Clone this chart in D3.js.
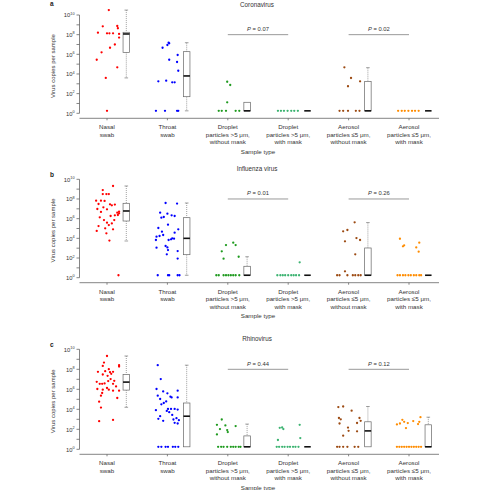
<!DOCTYPE html>
<html><head><meta charset="utf-8">
<script src="https://cdn.jsdelivr.net/npm/d3@7"></script>
<style>html,body{margin:0;padding:0;background:#fff}svg{display:block}</style>
</head><body><div id="chart"></div>
<script>
// ---------- data ----------
const categoryLabels = [
  ["Nasal","swab"],
  ["Throat","swab"],
  ["Droplet","particles >5 μm,","without mask"],
  ["Droplet","particles >5 μm,","with mask"],
  ["Aerosol","particles ≤5 μm,","without mask"],
  ["Aerosol","particles ≤5 μm,","with mask"]
];
const viruses = ["Coronavirus","Influenza virus","Rhinovirus"];
const panelLetters = ["a","b","c"];
const pValues = [["0.07","0.02"],["0.01","0.26"],["0.44","0.12"]];
const yTickExponents = [0,2,4,6,8,10];
const ND = null; // not detected -> plotted at detection floor
const detectionFloorLog = 0.25;
const colors = ["#ff0000","#0000ff","#1e9a1e","#3cb371","#9c4a12","#ff8c00"];

// points: [jitter (fraction of category step), log10 copies]
const coronaPoints = [
  [[0.03,10.5],[-0.07,8.85],[0.17,8.88],[0.18,8.65],[-0.15,8.2],[0,8.14],[0.04,8.14],[0.1,8.14],[0.2,8.07],[0.2,7.7],[0.13,7.0],[0.05,6.67],[-0.09,6.2],[-0.17,5.45],[0.17,4.68],[-0.02,3.6],[0,ND]],
  [[-0.08,6.67],[0,6.95],[0.02,7.18],[0.03,7.12],[0.17,5.93],[0.03,5.45],[0.16,5.22],[0.18,4.33],[-0.15,3.25],[-0.02,3.32],[0.08,3.15],[0.12,3.15],[-0.19,ND],[-0.04,ND],[0.16,ND],[0.18,ND]],
  [[-0.01,3.21],[0.04,2.88],[-0.01,1.12],[-0.15,ND],[-0.1,ND],[-0.03,ND],[0.13,ND],[0.19,ND]],
  [[-0.17,ND],[-0.12,ND],[-0.07,ND],[-0.01,ND],[0.05,ND],[0.1,ND],[0.16,ND]],
  [[-0.07,4.68],[0.04,3.59],[-0.01,2.75],[0.19,3.25],[-0.15,ND],[-0.09,ND],[-0.01,ND],[0.12,ND],[0.18,ND]],
  [[-0.18,ND],[-0.12,ND],[-0.07,ND],[-0.01,ND],[0.05,ND],[0.1,ND],[0.16,ND]]
];
const influenzaPoints = [
  [[0.1,9.32],[-0.07,8.91],[-0.07,8.5],[-0.01,8.5],[0.03,8.5],[-0.18,7.83],[-0.1,7.83],[-0.04,7.8],[-0.14,7.49],[0.05,7.46],[0.08,7.36],[0.13,7.43],[-0.06,7.15],[-0.16,6.98],[0,6.95],[0.2,6.71],[0.17,6.61],[0.2,6.54],[0.18,6.37],[0.13,6.34],[-0.1,6.68],[0.06,6.27],[-0.12,6.14],[-0.05,5.86],[0.12,5.86],[0,5.59],[0.08,5.52],[0.03,5.35],[-0.14,5.25],[-0.03,5.02],[0.1,4.92],[-0.17,4.75],[-0.01,4.51],[0.04,3.77],[0.19,ND]],
  [[-0.03,7.59],[0.16,7.53],[-0.12,6.61],[0,6.51],[-0.06,6.17],[0.07,6.34],[0.12,6.27],[-0.1,6.1],[0.01,5.39],[-0.15,5.05],[-0.18,4.17],[-0.13,4.24],[-0.07,4.34],[-0.09,4.68],[0.12,4.58],[0.18,4.92],[0.06,3.9],[0.08,4.0],[0.11,3.97],[0.02,3.83],[-0.19,3.83],[-0.03,3.22],[0,3.08],[0.01,2.81],[-0.18,3.05],[0.17,2.71],[-0.01,2.38],[0.17,1.94],[-0.16,ND],[0.01,ND],[0.03,ND],[0.17,ND],[0.2,ND]],
  [[-0.03,3.32],[0.09,3.56],[0.13,3.32],[-0.1,2.68],[-0.07,1.93],[0.18,2.13],[-0.19,ND],[-0.15,ND],[-0.07,ND],[-0.03,ND],[0.01,ND],[0.05,ND],[0.09,ND],[0.13,ND],[0.19,ND]],
  [[0.19,1.56],[-0.18,ND],[-0.13,ND],[-0.09,ND],[-0.05,ND],[0,ND],[0.05,ND],[0.09,ND],[0.13,ND],[0.18,ND]],
  [[0.1,5.63],[-0.09,4.71],[-0.02,4.85],[-0.06,3.7],[0.13,4.03],[0.19,3.83],[0.11,2.38],[-0.06,0.65],[-0.19,ND],[-0.15,ND],[-0.02,ND],[0.07,ND],[0.11,ND],[0.16,ND],[0.2,ND]],
  [[-0.15,3.96],[-0.08,3.29],[-0.1,3.19],[0.17,3.56],[0.12,3.08],[0.16,2.64],[-0.19,ND],[-0.15,ND],[-0.1,ND],[-0.06,ND],[-0.01,ND],[0.03,ND],[0.08,ND],[0.12,ND],[0.17,ND],[0.2,ND]]
];
const rhinoPoints = [
  [[0,9.33],[-0.05,8.67],[-0.07,8.34],[0.2,8.41],[0.2,8.27],[-0.15,7.75],[-0.03,7.81],[0.03,8.01],[0.05,7.71],[0.07,7.55],[0.1,7.75],[0.01,7.35],[-0.07,7.48],[-0.17,6.75],[-0.12,6.55],[-0.08,6.55],[-0.04,6.59],[0.02,6.82],[0.06,7.02],[0.12,6.85],[0.1,6.55],[0.15,6.29],[-0.16,6.03],[-0.07,5.96],[0,6.13],[0.03,5.96],[0.1,5.86],[0.2,5.86],[-0.08,5.63],[-0.1,5.36],[0.17,5.13],[-0.13,4.76],[-0.1,4.17],[-0.13,2.81],[0.1,2.94]],
  [[-0.16,8.41],[-0.11,7.02],[-0.18,6.03],[-0.07,5.79],[-0.16,5.36],[-0.12,5.03],[0,5.6],[0.05,5.26],[0.07,5.19],[0.17,5.86],[0.17,5.19],[-0.02,4.79],[-0.06,4.63],[-0.1,4.5],[0.01,4.04],[-0.19,3.91],[0.06,4.04],[0.12,4.04],[0.17,3.97],[-0.01,3.84],[0.03,3.71],[-0.12,3.31],[-0.15,3.05],[-0.07,2.85],[0.08,3.44],[0.1,2.98],[0.15,3.11],[0.12,2.65],[0.17,2.58],[0.19,2.91],[-0.15,ND],[-0.1,ND],[-0.03,ND],[0.01,ND],[0.09,ND],[0.13,ND],[0.18,ND]],
  [[-0.1,2.98],[-0.18,2.45],[-0.04,2.39],[-0.13,2.02],[-0.01,1.92],[0.13,2.32],[0,1.72],[-0.18,1.49],[-0.16,ND],[-0.11,ND],[-0.07,ND],[-0.01,ND],[0.05,ND],[0.09,ND],[0.13,ND],[0.18,ND],[0.21,ND]],
  [[-0.14,2.15],[-0.08,2.02],[-0.1,2.18],[0.19,2.45],[-0.17,0.93],[0.2,1.12],[-0.19,ND],[-0.15,ND],[-0.1,ND],[-0.06,ND],[-0.01,ND],[0.03,ND],[0.08,ND],[0.12,ND],[0.17,ND]],
  [[-0.17,4.22],[-0.09,4.28],[0.05,3.86],[-0.16,3.13],[-0.13,3.0],[0.18,3.13],[0.2,2.85],[0.14,2.63],[-0.01,2.17],[0,1.85],[0.14,1.8],[-0.09,1.36],[-0.15,2.58],[-0.19,ND],[-0.15,ND],[-0.09,ND],[-0.02,ND],[0.1,ND],[0.16,ND]],
  [[-0.2,2.49],[-0.15,2.58],[-0.11,2.95],[-0.08,2.75],[-0.05,2.12],[-0.02,2.62],[0.07,2.82],[0.15,2.52],[0.17,2.75],[0.19,3.21],[-0.2,ND],[-0.16,ND],[-0.12,ND],[-0.08,ND],[-0.04,ND],[0,ND],[0.04,ND],[0.08,ND],[0.12,ND],[0.16,ND],[0.2,ND]]
];
// box stats (log10): [lower whisker, q1, median, q3, upper whisker]
const coronaBoxes = [
  [3.6,6.2,8.07,8.24,10.5],[ND,1.69,3.8,6.27,7.18],[ND,ND,ND,1.12,1.12],
  [ND,ND,ND,ND,ND],[ND,ND,ND,3.25,4.64],[ND,ND,ND,ND,ND]
];
const influenzaBoxes = [
  [3.73,5.76,6.78,7.56,9.32],[ND,2.34,4.0,6.1,7.59],[ND,ND,ND,1.16,2.13],
  [ND,ND,ND,ND,ND],[ND,ND,ND,3.02,5.6],[ND,ND,ND,ND,ND]
];
const rhinoBoxes = [
  [4.2,5.92,6.72,7.48,9.33],[ND,ND,3.31,4.63,8.41],[ND,ND,ND,1.34,2.52],
  [ND,ND,ND,ND,ND],[ND,ND,1.84,2.75,4.28],[ND,ND,ND,2.45,3.21]
];
const allPoints = [coronaPoints, influenzaPoints, rhinoPoints];
const allBoxes = [coronaBoxes, influenzaBoxes, rhinoBoxes];

// ---------- layout ----------
const W = 490, H = 490;
const panelTop = [15, 179.3, 349.3];     // pixel of 10^10
const panelBottom = [113.3, 277.7, 449.3]; // pixel of 10^0
const axisX = 79.5, axisRight = 439;
const FONT = "'Liberation Sans', Arial, Helvetica, sans-serif";

const svg = d3.select("#chart").append("svg").attr("width", W).attr("height", H)
  .style("font-family", FONT);

const x = d3.scalePoint().domain(d3.range(categoryLabels.length)).range([107, 409]);
const step = x.step();
const val = e => Math.pow(10, e === null ? detectionFloorLog : e);

viruses.forEach((virus, pi) => {
  const g = svg.append("g");
  const y = d3.scaleLog().domain([1, 1e10]).range([panelBottom[pi], panelTop[pi]]);
  const xAxisY = panelBottom[pi] + 5;

  // panel letter & title
  g.append("text").attr("x", 50).attr("y", pi === 0 ? 5.5 : panelTop[pi] - 2)
    .attr("font-size", 6.5).attr("font-weight", "bold").attr("fill", "#222").text(panelLetters[pi]);
  g.append("text").attr("x", 257).attr("y", panelTop[pi] - 8)
    .attr("text-anchor", "middle").attr("font-size", 6.3).attr("fill", "#333").text(virus);

  // y axis
  g.append("line").attr("x1", axisX).attr("x2", axisX)
    .attr("y1", y(1e10)).attr("y2", y(1)).attr("stroke", "#666").attr("stroke-width", 0.8);
  d3.range(0, 11).forEach(k => {
    g.append("line").attr("x1", axisX - 3).attr("x2", axisX)
      .attr("y1", y(Math.pow(10, k))).attr("y2", y(Math.pow(10, k)))
      .attr("stroke", "#666").attr("stroke-width", 0.8);
  });
  yTickExponents.forEach(k => {
    const t = g.append("text").attr("x", axisX - 5).attr("y", y(Math.pow(10, k)) + 2.2)
      .attr("text-anchor", "end").attr("font-size", 5.8).attr("fill", "#333");
    t.append("tspan").text("10");
    t.append("tspan").attr("dy", -2.6).attr("font-size", 3.8).text(k);
  });
  g.append("text")
    .attr("transform", `translate(55,${(y(1) + y(1e10)) / 2 + 2}) rotate(-90)`)
    .attr("text-anchor", "middle").attr("font-size", 6).attr("fill", "#333")
    .text("Virus copies per sample");

  // x axis
  g.append("line").attr("x1", axisX).attr("x2", axisRight)
    .attr("y1", xAxisY).attr("y2", xAxisY).attr("stroke", "#666").attr("stroke-width", 0.8);
  categoryLabels.forEach((lines, ci) => {
    g.append("line").attr("x1", x(ci)).attr("x2", x(ci))
      .attr("y1", xAxisY).attr("y2", xAxisY + 2).attr("stroke", "#666").attr("stroke-width", 0.8);
    lines.forEach((ln, li) => {
      g.append("text").attr("x", x(ci)).attr("y", xAxisY + 11 + li * 7.4)
        .attr("text-anchor", "middle").attr("font-size", 6.2).attr("fill", "#333").text(ln);
    });
  });
  g.append("text").attr("x", 258).attr("y", xAxisY + 35.5)
    .attr("text-anchor", "middle").attr("font-size", 6.2).attr("fill", "#333").text("Sample type");

  // P-value brackets
  [[2, 3], [4, 5]].forEach((pair, k) => {
    const yl = y(1e8);
    g.append("line").attr("x1", x(pair[0])).attr("x2", x(pair[1]))
      .attr("y1", yl).attr("y2", yl).attr("stroke", "#999").attr("stroke-width", 1);
    const t = g.append("text").attr("x", (x(pair[0]) + x(pair[1])) / 2).attr("y", yl - 3.5)
      .attr("text-anchor", "middle").attr("font-size", 5.8).attr("fill", "#333");
    t.append("tspan").attr("font-style", "italic").text("P");
    t.append("tspan").text(" = " + pValues[pi][k]);
  });

  // points
  allPoints[pi].forEach((pts, ci) => {
    g.append("g").selectAll("circle").data(pts).join("circle")
      .attr("cx", d => x(ci) + d[0] * step)
      .attr("cy", d => y(val(d[1])))
      .attr("r", 1.15)
      .attr("fill", colors[ci]);
  });

  // boxes
  allBoxes[pi].forEach((b, ci) => {
    const cx = x(ci) + 19.3, bw = 6.5;
    const [lo, q1, med, q3, hi] = b.map(v => y(val(v)));
    const gb = g.append("g");
    if (hi < q3 - 0.1) {
      gb.append("line").attr("x1", cx).attr("x2", cx).attr("y1", hi).attr("y2", q3)
        .attr("stroke", "#777").attr("stroke-width", 0.7).attr("stroke-dasharray", "1,1");
      gb.append("line").attr("x1", cx - 1.8).attr("x2", cx + 1.8).attr("y1", hi).attr("y2", hi)
        .attr("stroke", "#777").attr("stroke-width", 0.7);
    }
    if (lo > q1 + 0.1) {
      gb.append("line").attr("x1", cx).attr("x2", cx).attr("y1", q1).attr("y2", lo)
        .attr("stroke", "#777").attr("stroke-width", 0.7).attr("stroke-dasharray", "1,1");
      gb.append("line").attr("x1", cx - 1.8).attr("x2", cx + 1.8).attr("y1", lo).attr("y2", lo)
        .attr("stroke", "#777").attr("stroke-width", 0.7);
    }
    gb.append("rect").attr("x", cx - bw / 2).attr("y", q3).attr("width", bw)
      .attr("height", Math.max(0, q1 - q3)).attr("fill", "#fff")
      .attr("stroke", "#666").attr("stroke-width", 0.7);
    gb.append("line").attr("x1", cx - bw / 2).attr("x2", cx + bw / 2)
      .attr("y1", med).attr("y2", med).attr("stroke", "#111").attr("stroke-width", 1.6);
  });
});
</script></body></html>
